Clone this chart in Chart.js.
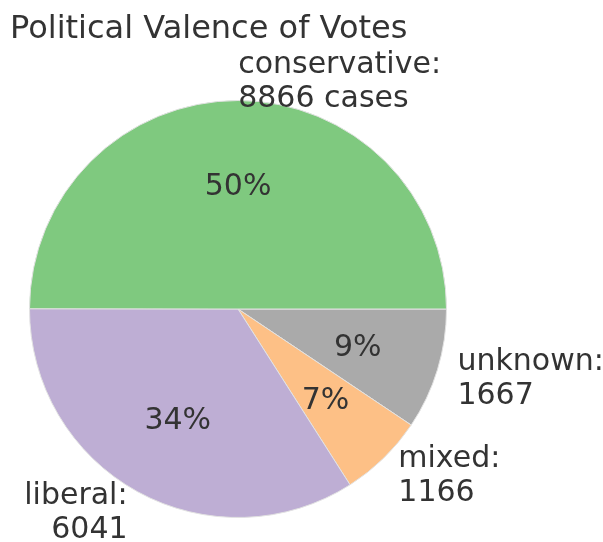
<!DOCTYPE html>
<html>
<head>
<meta charset="utf-8">
<script src="https://cdn.jsdelivr.net/npm/chart.js@4"></script>
<style>
  html, body { margin: 0; padding: 0; background: #fff; }
  #wrap { width: 603px; height: 542px; position: relative; }
</style>
</head>
<body>
<div id="wrap"><canvas id="pieChart" width="603" height="542"></canvas></div>
<script>
// Data (listed clockwise from 3 o'clock, as Chart.js draws)
const categories = ["unknown", "mixed", "liberal", "conservative"];
const caseCounts = [1667, 1166, 6041, 8866];
const outerLabels = ["unknown:\n1667", "mixed:\n1166", "liberal:\n6041", "conservative:\n8866 cases"];
const sliceColors = ["#aaaaaa", "#fdc086", "#beaed4", "#7fc97f"];
const chartTitle = "Political Valence of Votes";

const textColor = "#333333";
const fontFamily = "'DejaVu Sans', sans-serif";

// draws title, outside labels and percentages like matplotlib's pie
const pieLabels = {
    id: "pieLabels",
    afterDraw(chart) {
        const ctx = chart.ctx;
        const meta = chart.getDatasetMeta(0);
        const total = caseCounts.reduce((a, b) => a + b, 0);
        ctx.save();
        ctx.fillStyle = textColor;

        // title
        ctx.font = "32px " + fontFamily;
        ctx.textAlign = "left";
        ctx.textBaseline = "alphabetic";
        ctx.fillText(chartTitle, 10, 38);

        ctx.font = "30px " + fontFamily;
        const lineH = 34;
        const nudge = 3; // matplotlib centres the whole bbox, text sits a bit lower
        meta.data.forEach((arc, i) => {
            const p = arc.getProps(["x", "y", "startAngle", "endAngle", "outerRadius"], true);
            const mid = (p.startAngle + p.endAngle) / 2;
            const c = Math.cos(mid), s = Math.sin(mid);

            // percentage inside
            ctx.textAlign = "center";
            ctx.textBaseline = "middle";
            const pct = Math.round(caseCounts[i] / total * 100) + "%";
            ctx.fillText(pct, p.x + c * p.outerRadius * 0.6, p.y + s * p.outerRadius * 0.6 + nudge);

            // label outside
            const lx = p.x + c * p.outerRadius * 1.1;
            const ly = p.y + s * p.outerRadius * 1.1 + nudge;
            ctx.textAlign = c >= -1e-6 ? "left" : "right";
            const lines = outerLabels[i].split("\n");
            const y0 = ly - (lines.length - 1) * lineH / 2;
            lines.forEach((ln, k) => ctx.fillText(ln, lx, y0 + k * lineH));
        });
        ctx.restore();
    }
};

new Chart(document.getElementById("pieChart"), {
    type: "pie",
    data: {
        labels: categories,
        datasets: [{
            data: caseCounts,
            backgroundColor: sliceColors,
            borderColor: "#e2e2e2",
            borderWidth: 1
        }]
    },
    options: {
        responsive: false,
        animation: false,
        rotation: 90,
        layout: { padding: { left: 29, right: 156, top: 100, bottom: 24 } },
        plugins: {
            legend: { display: false },
            tooltip: { enabled: false },
            title: { display: false }
        }
    },
    plugins: [pieLabels]
});
</script>
</body>
</html>
